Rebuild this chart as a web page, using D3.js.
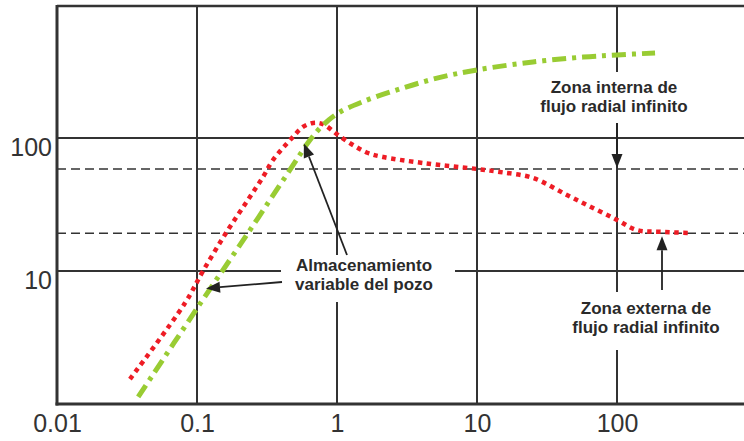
<!DOCTYPE html>
<html>
<head>
<meta charset="utf-8">
<script src="https://cdn.jsdelivr.net/npm/d3@7"></script>
<style>
  html, body { margin: 0; padding: 0; background: #fff; }
  svg { display: block; }
</style>
</head>
<body>
<svg id="chart" width="744" height="441"></svg>
<script>
// Derivative-type log-log diagnostic: two curves, reference levels and notes.
const xTicks = [0.01, 0.1, 1, 10, 100];
const yTicks = [10, 100];
const levelLines = [58.5, 19.2];

// Pressure change curve (green, dash-dot)
const pressureT = [0.038, 0.105, 0.239, 0.461, 0.6415, 0.794, 1.02, 1.509, 2.68, 5.18, 10, 25.1, 57.2, 100, 187];
const pressureV = [1.13, 5.65, 20.3, 57.5, 96.6, 125, 154, 186.6, 230, 282, 325, 373, 406, 421, 436];

// Derivative curve (red, dotted)
const derivT = [0.0332, 0.0821, 0.1104, 0.166, 0.231, 0.296, 0.349, 0.477, 0.571, 0.674, 0.794, 1.02, 1.30, 1.665, 2.13, 4.11, 10, 14.6, 25.1, 43.9, 67.4, 100, 139, 203, 343];
const derivV = [1.54, 5.74, 10.0, 20.3, 34.2, 50.9, 68.3, 100, 121, 129.7, 127, 105, 88.6, 77.1, 72, 64.9, 58.5, 55.5, 50.1, 37.3, 29.8, 24.2, 20.3, 19.7, 19.3];

const noteStorage = ["Almacenamiento", "variable del pozo"];
const noteInner = ["Zona interna de", "flujo radial infinito"];
const noteOuter = ["Zona externa de", "flujo radial infinito"];

const W = 744, H = 441;
const plotLeft = 57, plotBottom = 404, plotTop = 5;

const x = d3.scaleLog().domain([0.01, 100]).range([plotLeft, 617]);
const y = d3.scaleLog().domain([1, 1000]).range([plotBottom, plotTop]);

const svg = d3.select("#chart");
const ink = "#333";

// Grid lines
const grid = svg.append("g");
grid.selectAll("line.v").data(xTicks.slice(1)).join("line")
  .attr("x1", d => x(d)).attr("x2", d => x(d))
  .attr("y1", plotTop).attr("y2", plotBottom)
  .attr("stroke", ink).attr("stroke-width", 2);
grid.selectAll("line.h").data(yTicks).join("line")
  .attr("x1", plotLeft).attr("x2", W)
  .attr("y1", d => y(d)).attr("y2", d => y(d))
  .attr("stroke", ink).attr("stroke-width", 2);

// Reference levels
grid.selectAll("line.lvl").data(levelLines).join("line")
  .attr("x1", plotLeft).attr("x2", W)
  .attr("y1", d => y(d)).attr("y2", d => y(d))
  .attr("stroke", ink).attr("stroke-width", 1.6)
  .attr("stroke-dasharray", "9,5");

// Frame
svg.append("line").attr("x1", plotLeft).attr("x2", W).attr("y1", plotTop + 1).attr("y2", plotTop + 1)
  .attr("stroke", ink).attr("stroke-width", 2.5);
svg.append("line").attr("x1", plotLeft).attr("x2", plotLeft).attr("y1", plotTop).attr("y2", plotBottom + 1.5)
  .attr("stroke", ink).attr("stroke-width", 3);
svg.append("line").attr("x1", plotLeft - 1.5).attr("x2", W).attr("y1", plotBottom).attr("y2", plotBottom)
  .attr("stroke", ink).attr("stroke-width", 3);

// White panels behind the notes
const panels = [
  [281, 255, 174, 47],
  [535, 72, 165, 51],
  [562, 292, 170, 58]
];
svg.selectAll("rect.panel").data(panels).join("rect")
  .attr("x", d => d[0]).attr("y", d => d[1])
  .attr("width", d => d[2]).attr("height", d => d[3])
  .attr("fill", "#fff");

// Curves
const line = d3.line().x(d => x(d[0])).y(d => y(d[1])).curve(d3.curveCatmullRom.alpha(0.5));
svg.append("path")
  .attr("d", line(derivT.map((t, i) => [t, derivV[i]])))
  .attr("fill", "none").attr("stroke", "#ee1c25")
  .attr("stroke-width", 4.5).attr("stroke-dasharray", "4.5,4.5");
svg.append("path")
  .attr("d", line(pressureT.map((t, i) => [t, pressureV[i]])))
  .attr("fill", "none").attr("stroke", "#99cc33")
  .attr("stroke-width", 5).attr("stroke-dasharray", "14,6,4,6");

// Axis labels
const fmt = d => d3.format("~g")(d);
const xAxis = svg.append("g").attr("transform", `translate(0,${plotBottom})`)
  .call(d3.axisBottom(x).tickValues(xTicks).tickFormat(fmt).tickSize(0).tickPadding(10));
const yAxis = svg.append("g").attr("transform", `translate(${plotLeft},0)`)
  .call(d3.axisLeft(y).tickValues(yTicks).tickFormat(fmt).tickSize(0).tickPadding(5));
[xAxis, yAxis].forEach(a => {
  a.select(".domain").remove();
  a.selectAll("text")
    .attr("font-family", "'Liberation Sans', Arial, sans-serif")
    .attr("font-size", 25).attr("fill", ink);
});
yAxis.selectAll("text").attr("dy", "0.71em");

// Notes
function note(lines, cx, baseline) {
  svg.append("text")
    .attr("font-family", "'Liberation Sans', Arial, sans-serif")
    .attr("font-weight", "bold").attr("font-size", 17)
    .attr("fill", "#2a2a2a").attr("text-anchor", "middle")
    .selectAll("tspan").data(lines).join("tspan")
    .attr("x", cx).attr("y", (d, i) => baseline + i * 19)
    .text(d => d);
}
note(noteStorage, 364, 271);
note(noteInner, 614, 93);
note(noteOuter, 646, 314);

// Arrows
function arrow(x1, y1, x2, y2) {
  const a = Math.atan2(y2 - y1, x2 - x1);
  const len = 14, hw = 5.5;
  const bx = x2 - len * Math.cos(a), by = y2 - len * Math.sin(a);
  svg.append("line").attr("x1", x1).attr("y1", y1).attr("x2", bx).attr("y2", by)
    .attr("stroke", "#222").attr("stroke-width", 1.8);
  const px = -Math.sin(a) * hw, py = Math.cos(a) * hw;
  svg.append("path")
    .attr("d", `M${x2},${y2}L${bx + px},${by + py}L${bx - px},${by - py}Z`)
    .attr("fill", "#222");
}
arrow(347, 255, x(0.58), y(91));
arrow(282, 282, x(0.116), y(7.4));
arrow(x(100), 123, x(100), y(58.5) - 1);
arrow(662, 290, 662, y(19.2) + 3);
</script>
</body>
</html>
